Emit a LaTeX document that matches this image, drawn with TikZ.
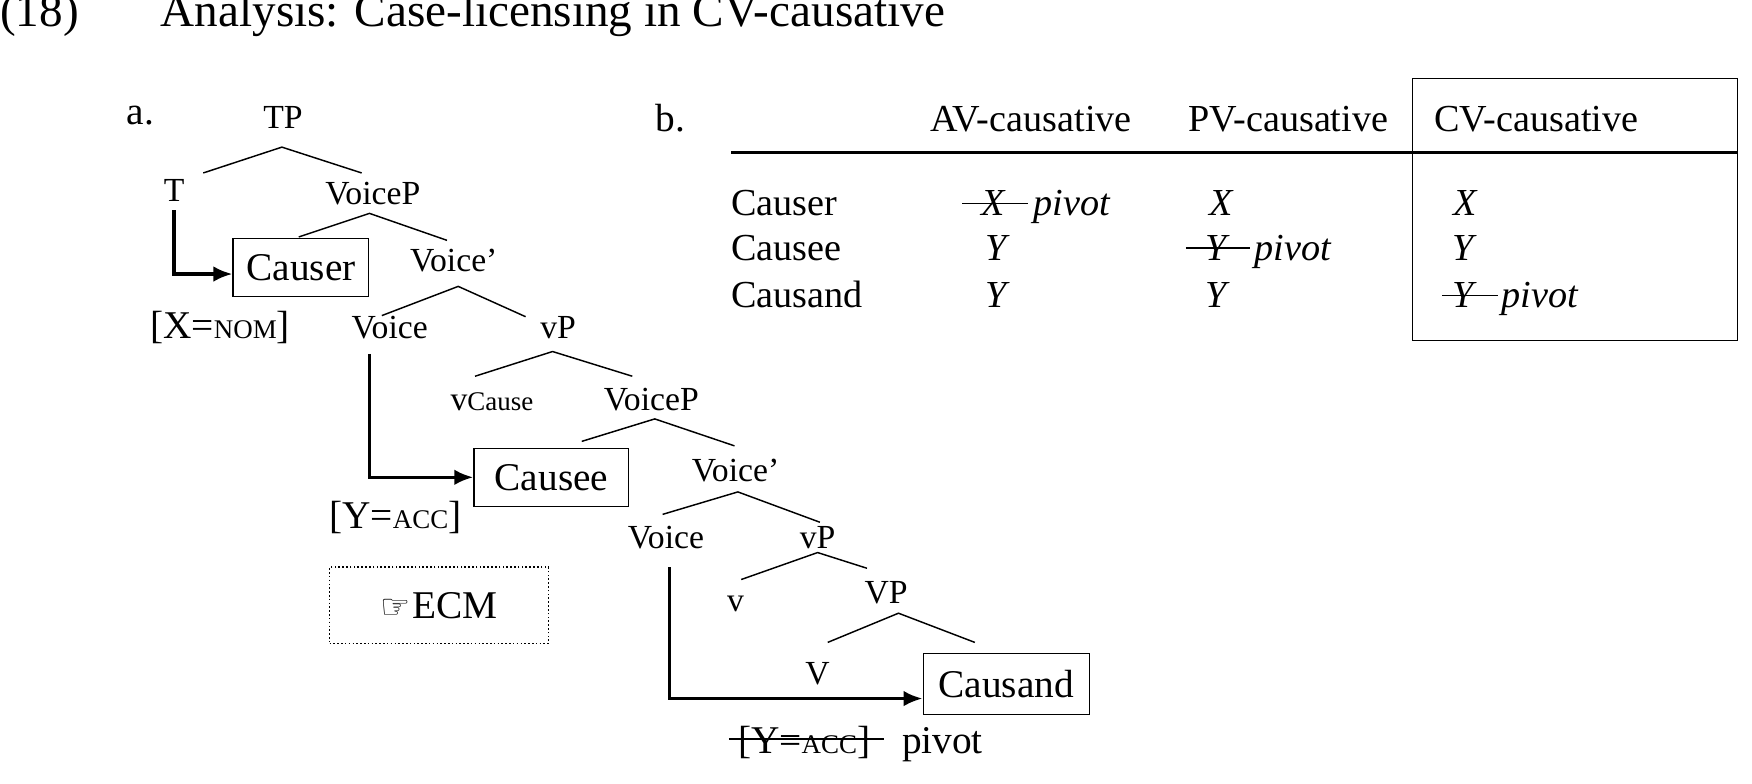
\documentclass[tikz,border=0pt]{standalone}
\usetikzlibrary{calc,arrows.meta}
\usepackage{fontspec}
\setmainfont{Liberation Serif}
\newfontfamily\symf{DejaVu Sans}
\newcommand{\fs}[1]{\fontsize{#1}{#1}\selectfont}
\newcommand{\smc}[1]{{\fs{24}#1}}
\begin{document}
\begin{tikzpicture}[x=1pt,y=-1pt,
  lab/.style={inner sep=0pt,font=\fs{30}},
  big/.style={inner sep=0pt,font=\fs{35}},
  cell/.style={inner sep=0pt,font=\fs{34},anchor=base west},
  br/.style={line width=1.3pt},
  ar/.style={line width=3.2pt,-{Latex[length=17pt,width=14pt]}},
  box/.style={draw,line width=1pt,inner sep=0pt,minimum height=52pt}]
\useasboundingbox (0,0) rectangle (1560,698);
% title
\node[anchor=base west,inner sep=0pt,font=\fs{42}] (num) at (0,24) {(18)};
\node[anchor=base west,inner sep=0pt,font=\fs{42}] (title) at (143,24) {Analysis: Case-licensing in CV-causative};
% tree
\node[big] (a) at (125,103) {a.};
\node[lab] (TP) at (252,105) {TP};
\node[lab] (T) at (155,170) {T};
\node[lab] (VP1) at (332,172) {VoiceP};
\node[box,minimum width=121pt,font=\fs{35}] (Causer) at (268,238) {Causer};
\node[lab] (Vb1) at (404,232) {Voice'};
\node[big] (xnom) at (196,292) {[X=\smc{NOM}]};
\node[lab] (Voice1) at (347,292) {Voice};
\node[lab] (vP1) at (497,292) {vP};
\node[lab] (vC) at (438,358) {v{\fs{24}Cause}};
\node[lab] (VP2) at (580,356) {VoiceP};
\node[box,minimum width=138pt,font=\fs{35}] (Causee) at (491,425) {Causee};
\node[lab] (Vb2) at (655,419) {Voice'};
\node[big] (yacc) at (352,461) {[Y=\smc{ACC}]};
\node[lab] (Voice2) at (593,479) {Voice};
\node[lab] (vP2) at (728,479) {vP};
\node[lab] (v) at (655,538) {v};
\node[lab] (VPP) at (789,528) {VP};
\node[lab] (V) at (728,600) {V};
\node[box,minimum width=148pt,minimum height=54pt,font=\fs{35}] (Causand) at (896,609) {Causand};
\node[big] (yacc2) at (716,661) {[Y=\smc{ACC}]};
\node[big,anchor=west] (piv) at (803,663) {pivot};
\draw[br] ($(yacc2.west)+(-8,-3)$) coordinate (s0) -- ($(yacc2.east)+(12,-3)$) coordinate (s1);
\node[draw,dotted,line width=1.4pt,minimum width=195pt,minimum height=68pt,inner sep=0pt] (ecm) at (391,539) {{\symf\fs{30}☞}\,{\fs{35}ECM}};
% branches
\draw[br] (181,154) -- (251,131) -- (322,154);
\draw[br] (266,211) -- (329,190) -- (398,214);
\draw[br] (340,281) -- (408,255) -- (468,282);
\draw[br] (423,335) -- (492,313) -- (563,335);
\draw[br] (518,393) -- (583,373) -- (654,397);
\draw[br] (590,458) -- (657,438) -- (730,465);
\draw[br] (660,516) -- (728,492) -- (772,506);
\draw[br] (737,572) -- (800,546) -- (868,572);
% arrows
\coordinate (t0) at (155,187);
\coordinate (v0) at (329,315);
\coordinate (w0) at (596,505);
\draw[ar] (t0) |- ([yshift=-6pt]Causer.west);
\draw[ar] (v0) |- (Causee.west);
\draw[ar] (w0) |- ([yshift=-13pt]Causand.west);
% table
\node[big] (b) at (597,105) {b.};
\node[cell,anchor=base] (h1) at (918,117) {AV-causative};
\node[cell,anchor=base] (h2) at (1147,117) {PV-causative};
\node[cell,anchor=base] (h3) at (1368,117) {CV-causative};
\draw[line width=3pt] (651,136) -- (1547,136);
\draw[line width=1pt] (1258,70) rectangle (1547,303);
\node[cell] (r1) at (651,192) {Causer};
\node[cell] (r2) at (651,232) {Causee};
\node[cell] (r3) at (651,274) {Causand};
\node[cell] (a1) at (874,192) {\itshape X};
\node[cell] (a1p) at (920,192) {\itshape pivot};
\draw[br] (857,181) -- (915,181);
\node[cell] (a2) at (877,232) {\itshape Y};
\node[cell] (a3) at (877,274) {\itshape Y};
\node[cell] (p1) at (1077,192) {\itshape X};
\node[cell] (p2) at (1073,232) {\itshape Y};
\node[cell] (p2p) at (1117,232) {\itshape pivot};
\draw[br] (1056,221) -- (1113,221);
\node[cell] (p3) at (1073,274) {\itshape Y};
\node[cell] (c1) at (1294,192) {\itshape X};
\node[cell] (c2) at (1293,232) {\itshape Y};
\node[cell] (c3) at (1293,274) {\itshape Y};
\node[cell] (c3p) at (1337,274) {\itshape pivot};
\draw[br] (1284,263) -- (1334,263);
\end{tikzpicture}
\end{document}
